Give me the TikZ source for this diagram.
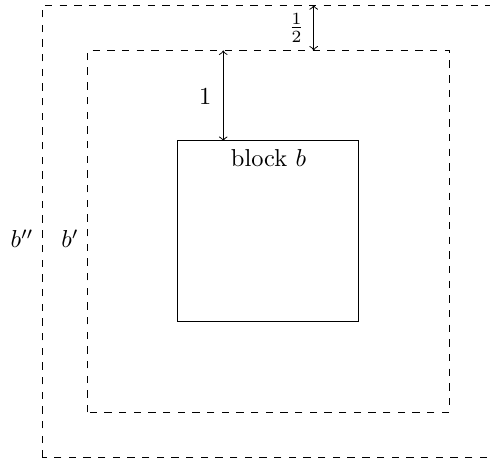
\documentclass[tikz,border=0pt]{standalone}
\begin{document}
\begin{tikzpicture}[x=1.3cm,y=1.3cm,
  dimarrow/.style={<->,>=to},
  region/.style={draw,dashed}]
\useasboundingbox (-1.967,-1.569) rectangle (3.448,3.558);
% block b
\coordinate (bSW) at (0,0);
\coordinate (bNE) at (2,2);
\draw (bSW) rectangle (bNE);
\node[anchor=north] (blk) at (1,2) {block $b$};
% b'
\coordinate (pSW) at (-1,-1);
\coordinate (pNE) at (3,3);
\draw[region] (pSW) rectangle (pNE);
\node[left] (bp) at (-1,0.92) {$b'$};
% b''
\coordinate (ppSW) at (-1.5,-1.5);
\coordinate (ppNE) at (3.5,3.5);
\draw[region] (ppSW) rectangle (ppNE);
\node[left] (bpp) at (-1.5,0.92) {$b''$};
% dimension arrows
\coordinate (a1) at (0.5,2);
\coordinate (a2) at (0.5,3);
\draw[dimarrow] (a1) -- (a2);
\node (l1) at (0.3,2.49) {$1$};
\coordinate (c1) at (1.5,3);
\coordinate (c2) at (1.5,3.5);
\draw[dimarrow] (c1) -- (c2);
\node (l2) at (1.31,3.25) {$\frac{1}{2}$};
\end{tikzpicture}
\end{document}
